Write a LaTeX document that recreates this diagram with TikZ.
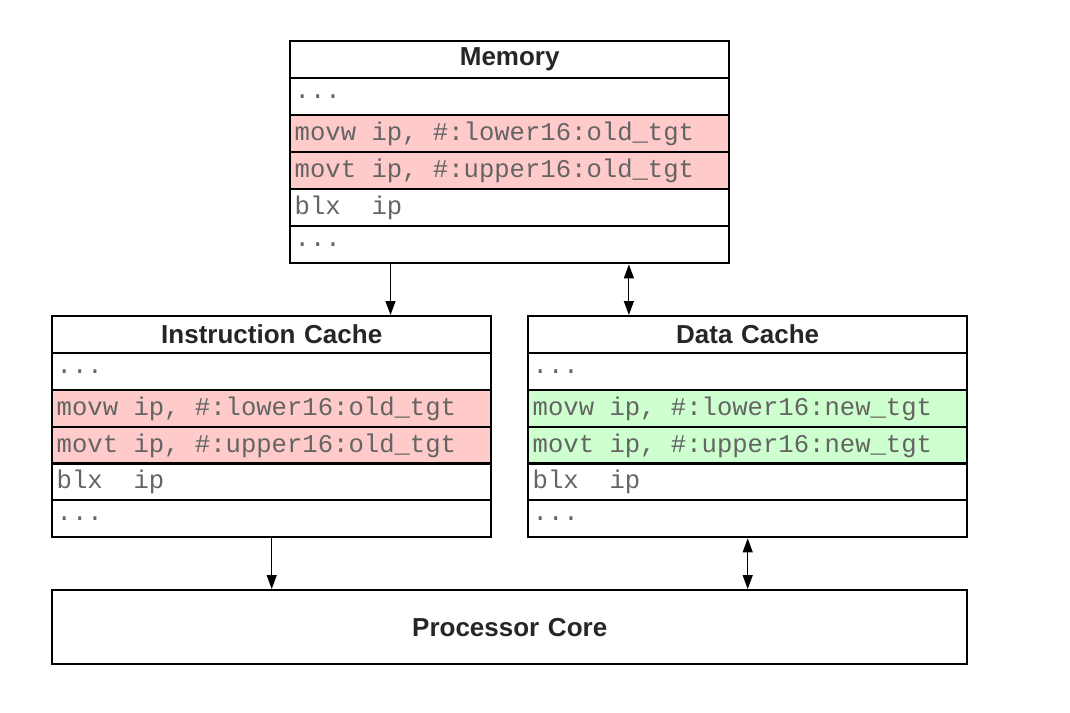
\documentclass[tikz,border=0pt]{standalone}
\usepackage{fontspec}
\setmainfont{Liberation Sans}
\setmonofont{Liberation Mono}
\usetikzlibrary{arrows.meta,calc}
\definecolor{oldred}{RGB}{255,202,202}
\definecolor{newgreen}{RGB}{206,255,206}
\definecolor{codegray}{RGB}{100,100,100}
\newcommand{\blank}{\makebox[0.6em]{}}
\tikzset{
  cell/.style={draw, line width=1.2pt, anchor=north west, minimum width=219.5pt,
    minimum height=18.5pt, text width=215pt, inner xsep=1.5pt, inner ysep=0pt,
    align=left, font=\fontsize{12.8}{14}\selectfont\ttfamily, text=codegray},
  head/.style={cell, align=center, font=\fontsize{13}{14}\selectfont\bfseries, text=black!85},
  link/.style={-{Triangle[length=7pt,width=5pt]}, line width=0.6pt},
  dlink/.style={{Triangle[length=7pt,width=5pt]}-{Triangle[length=7pt,width=5pt]}, line width=0.6pt}
}
\begin{document}
\begin{tikzpicture}[x=0.5pt, y=-0.5pt]
        \useasboundingbox (0,0) rectangle (1070,712);
        % memory
        \draw (289, 40) node[head](mem0){Memory};
        \draw (289, 77) node[cell](mem1){...};
        \draw (289,114) node[cell, fill=oldred](mem2){movw\blank ip,\blank\#:lower16:old\_tgt};
        \draw (289,151) node[cell, fill=oldred](mem3){movt\blank ip,\blank\#:upper16:old\_tgt};
        \draw (289,188) node[cell](mem4){blx\blank\blank ip};
        \draw (289,225) node[cell](mem5){...};
        % instruction cache
        \draw (51,315) node[head](ic0){Instruction Cache};
        \draw (51,352) node[cell](ic1){...};
        \draw (51,389) node[cell, fill=oldred](ic2){movw\blank ip,\blank\#:lower16:old\_tgt};
        \draw (51,426) node[cell, fill=oldred](ic3){movt\blank ip,\blank\#:upper16:old\_tgt};
        \draw (51,462) node[cell](ic4){blx\blank\blank ip};
        \draw (51,499) node[cell](ic5){...};
        % data cache
        \draw (527,315) node[head](dc0){Data Cache};
        \draw (527,352) node[cell](dc1){...};
        \draw (527,389) node[cell, fill=newgreen](dc2){movw\blank ip,\blank\#:lower16:new\_tgt};
        \draw (527,426) node[cell, fill=newgreen](dc3){movt\blank ip,\blank\#:upper16:new\_tgt};
        \draw (527,462) node[cell](dc4){blx\blank\blank ip};
        \draw (527,499) node[cell](dc5){...};
        % core
        \draw (51,589) node[head, minimum width=457.5pt, minimum height=37pt, text width=450pt](core){Processor Core};
        \draw[link] ($(mem5.south west)!0.23!(mem5.south east)$) coordinate(m1) -- (m1 |- ic0.north);
        \draw[dlink] ($(mem5.south west)!0.77!(mem5.south east)$) coordinate(m2) -- (m2 |- dc0.north);
        \draw[link] (ic5.south) -- (ic5.south |- core.north);
        \draw[dlink] (dc5.south) -- (dc5.south |- core.north);
    \end{tikzpicture}
\end{document}
